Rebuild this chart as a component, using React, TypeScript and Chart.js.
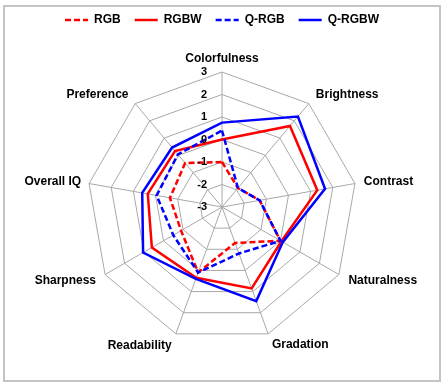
import React, { useEffect, useRef } from "react";
import { Chart, registerables, layouts } from "chart.js";

Chart.register(...registerables);

const categories = [
  "Colorfulness",
  "Brightness",
  "Contrast",
  "Naturalness",
  "Gradation",
  "Readability",
  "Sharpness",
  "Overall IQ",
  "Preference",
];

const seriesNames = ["RGB", "RGBW", "Q-RGB", "Q-RGBW"];

const rgbValues = [-1.0, -1.9, -1.3, 0.0, -1.3, 0.1, -0.9, -0.65, -0.45];
const rgbwValues = [0.0, 1.7, 1.3, 0.05, 0.85, 0.35, 0.6, 0.35, 0.25];
const qrgbValues = [0.4, -1.9, -1.3, 0.0, -0.8, 0.1, -0.5, -0.05, 0.05];
const qrgbwValues = [0.75, 2.25, 1.65, 0.12, 1.45, 0.4, 1.05, 0.6, 0.45];

const tickMin = -3;
const tickMax = 3;
const tickStep = 1;

// style: distance of each category label from the outer ring
const labelPadding = [13, 11, 9, 11, 11, 12, 10.5, 8, 10.5];

const FONT = "'Liberation Sans', Arial, sans-serif";
const LINE_WIDTH = 2.5;

const spacerPlugin = {
  id: "topSpacer",
  beforeInit(chart: any) {
    const box: any = {
      position: "top",
      weight: 1,
      fullSize: true,
      options: {},
      left: 0,
      top: 0,
      right: 0,
      bottom: 0,
      width: 0,
      height: 0,
      isHorizontal() {
        return true;
      },
      update(maxWidth: number) {
        this.width = maxWidth;
        this.height = 17;
      },
      draw() {},
    };
    layouts.addBox(chart, box);
  },
};

const tickLabelPlugin = {
  id: "leftTickLabels",
  afterDatasetsDraw(chart: any) {
    const scale = chart.scales.r;
    const ctx = chart.ctx;
    ctx.save();
    ctx.font = `bold 11px ${FONT}`;
    ctx.fillStyle = "#000";
    ctx.textAlign = "right";
    ctx.textBaseline = "middle";
    scale.ticks.forEach((t: any) => {
      const d = scale.getDistanceFromCenterForValue(t.value);
      ctx.fillText(String(t.value), scale.xCenter - 15, scale.yCenter - d);
    });
    ctx.restore();
  },
};

export default function App() {
  const canvasRef = useRef<HTMLCanvasElement | null>(null);

  useEffect(() => {
    if (!canvasRef.current) return;
    const mk = (
      label: string,
      data: number[],
      color: string,
      dashed: boolean,
      order: number
    ) => ({
      label,
      data,
      borderColor: color,
      backgroundColor: color,
      borderWidth: LINE_WIDTH,
      borderDash: dashed ? [6, 3] : [],
      fill: false,
      pointRadius: 0,
      pointHoverRadius: 0,
      pointStyle: "line",
      tension: 0,
      order,
    });
    const chart = new Chart(canvasRef.current, {
      type: "radar",
      data: {
        labels: categories,
        datasets: [
          mk(seriesNames[0], rgbValues, "#ff0000", true, 4),
          mk(seriesNames[1], rgbwValues, "#ff0000", false, 3),
          mk(seriesNames[2], qrgbValues, "#0000ff", true, 2),
          mk(seriesNames[3], qrgbwValues, "#0000ff", false, 1),
        ],
      },
      options: {
        responsive: false,
        animation: false,
        devicePixelRatio: 1,
        layout: { padding: { top: 0, bottom: 34, left: 0, right: 0 } },
        plugins: {
          legend: {
            display: true,
            position: "top",
            labels: {
              usePointStyle: true,
              pointStyle: "line",
              pointStyleWidth: 23,
              boxWidth: 23,
              boxHeight: 12,
              padding: 14,
              color: "#000",
              font: { family: FONT, size: 12, weight: "bold" },
              sort: (a: any, b: any) => a.datasetIndex - b.datasetIndex,
              generateLabels: (c: any) => {
                const items = (Chart.defaults as any).plugins.legend.labels.generateLabels(c);
                items.forEach((it: any) => {
                  const ds = c.data.datasets[it.datasetIndex];
                  it.lineDash = ds.borderDash;
                  it.lineWidth = LINE_WIDTH;
                  it.strokeStyle = ds.borderColor;
                  it.fillStyle = ds.borderColor;
                  it.pointStyle = "line";
                });
                return items;
              },
            },
          },
          tooltip: { enabled: false },
        },
        scales: {
          r: {
            min: tickMin,
            max: tickMax,
            beginAtZero: false,
            ticks: { stepSize: tickStep, display: false },
            grid: { color: "#a8a8a8", lineWidth: 1 },
            angleLines: { color: "#a8a8a8", lineWidth: 1 },
            pointLabels: {
              color: "#000",
              padding: (ctx: any) => labelPadding[ctx.index] ?? 10,
              font: { family: FONT, size: 12, weight: "bold", lineHeight: "1px" },
            },
          },
        },
      },
      plugins: [spacerPlugin, tickLabelPlugin],
    } as any);
    return () => chart.destroy();
  }, []);

  return (
    <div
      style={{
        position: "absolute",
        left: 0,
        top: 0,
        width: 444,
        height: 385,
        background: "#fff",
      }}
    >
      <div
        style={{
          position: "absolute",
          left: 3,
          top: 5,
          width: 438,
          height: 377,
          boxSizing: "border-box",
          border: "2px solid #c4c4c4",
        }}
      />
      <canvas
        ref={canvasRef}
        width={444}
        height={385}
        style={{ position: "absolute", left: 0, top: 0, width: 444, height: 385 }}
      />
    </div>
  );
}
